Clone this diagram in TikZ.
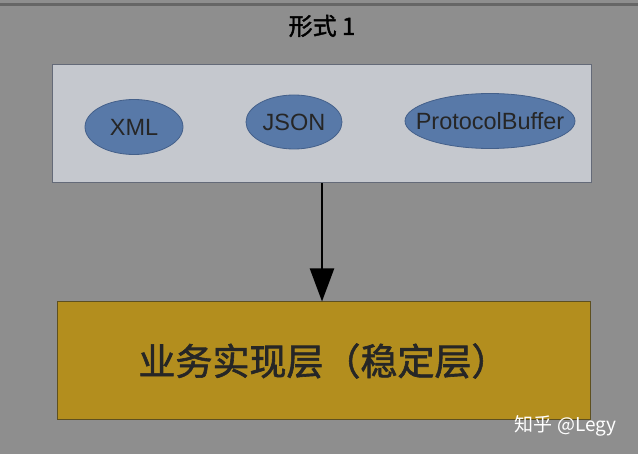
\documentclass[tikz,border=0pt]{standalone}
\usepackage{fontspec}
\setmainfont{Liberation Sans}
\newfontfamily\cjk{Noto Sans CJK SC}
\newfontfamily\cjkbold[FakeBold=1.6]{Noto Sans CJK SC}
\usepackage{tikz}
\usetikzlibrary{arrows.meta,shapes.geometric}

\definecolor{bggray}{HTML}{8E8E8E}
\definecolor{panelgray}{HTML}{C5C8CE}
\definecolor{panelline}{HTML}{646A78}
\definecolor{fmtblue}{HTML}{5879A8}
\definecolor{fmtline}{HTML}{44608A}
\definecolor{layergold}{HTML}{B38E1E}
\definecolor{layerline}{HTML}{5E5020}

\tikzset{
  format/.style={ellipse, draw=fmtline, fill=fmtblue, line width=0.8pt,
    inner sep=0pt, label={[text=black!85, font=\fontsize{23.5}{25}\selectfont]center:#1}},
}

\begin{document}
\begin{tikzpicture}[x=1pt, y=-1pt, >={Triangle[length=33pt, width=24pt]}]
  % The page
  \fill [bggray] (0,0) rectangle (638,454);
  \useasboundingbox (0,0) rectangle (638,454);
  % The rule at the top
  \draw [black!60, line width=3pt] (0,5) -- (638,5);

  % The title
  \node (title) at (322,26) {\cjkbold\fontsize{24}{26}\selectfont 形式 1};

  % The panel of formats
  \node [draw=panelline, fill=panelgray, line width=1pt, minimum width=539pt,
    minimum height=118pt] (formats) at (321.5,124) {};
  % XML
  \node [format=XML, minimum width=98pt, minimum height=55pt] (xml) at (134,127) {};
  % JSON
  \node [format=JSON, minimum width=96pt, minimum height=54pt] (json) at (294,122) {};
  % ProtocolBuffer
  \node [format=ProtocolBuffer, minimum width=170pt, minimum height=55pt] (pb) at (490,121) {};

  % The stable layer
  \node [draw=layerline, fill=layergold, line width=1pt, minimum width=533pt,
    minimum height=118pt] (layer) at (323.5,361)
    {\cjkbold\fontsize{37}{39}\selectfont\color{black!85}业务实现层（稳定层）};

  % From the formats down to the layer
  \draw [->, line width=2.2pt] (formats.south -| 322,0) -- (layer.north -| 322,0);

  % The mark in the corner
  \node [text=white, anchor=east] (mark) at (620,426)
    {\cjk\fontsize{19}{21}\selectfont 知乎 @Legy};
\end{tikzpicture}
\end{document}
